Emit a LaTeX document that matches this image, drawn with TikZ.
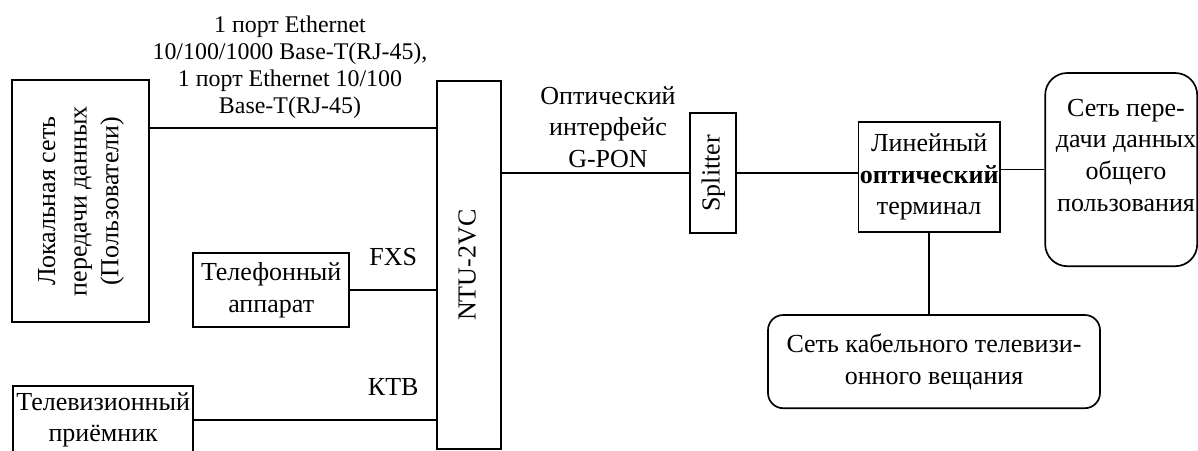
\documentclass[tikz,border=0pt]{standalone}
\usepackage{fontspec}
\setmainfont{Liberation Serif}
\usepackage{graphicx}
\usepackage{tikz}
\usetikzlibrary{positioning}

\newcommand{\diafont}{\fontsize{18.5}{22.5}\selectfont}
\newcommand{\portfont}{\fontsize{17}{19.2}\selectfont}
\newcommand{\vtext}[1]{\rotatebox{90}{\begin{tabular}{@{}c@{}}#1\end{tabular}}}

\begin{document}
\begin{tikzpicture}[
    every node/.style = {align=center},
    box/.style   = {rectangle, draw, line width=1.2pt, inner sep=1pt,
                    text centered, font=\diafont},
    rbox/.style  = {box, rounded corners=0.5cm},
    lbl/.style   = {font=\diafont},
    wire/.style  = {line width=1.2pt},
]
\useasboundingbox (0,0) rectangle (29.95,-11.25);

% --- Абонентская сторона ---
\node[box, minimum width=3.43cm, minimum height=6.05cm]
    (lan) at (2.01,-5.03)
    {\vtext{Локальная сеть\\передачи данных\\(Пользователи)}};
\node[box, minimum width=1.6cm, minimum height=9.2cm]
    (ntu) at (11.73,-6.63)
    {\vtext{NTU-2VC}};
\node[box, minimum width=3.9cm, minimum height=1.85cm]
    (phone) at (6.78,-7.25)
    {Телефонный\\аппарат};
\node[box, minimum width=4.5cm, minimum height=1.7cm]
    (tv) at (2.58,-10.5)
    {Телевизионный\\приёмник};

% --- Оптическая часть ---
\node[box, minimum width=1.15cm, minimum height=3.0cm]
    (splitter) at (17.83,-4.33)
    {\vtext{Splitter}};
\node[box, minimum width=3.5cm, minimum height=2.75cm]
    (olt) at (23.23,-4.43)
    {Линейный\\\textbf{оптический}\\терминал};
\node[rbox, minimum width=3.8cm, minimum height=4.83cm, rounded corners=0.55cm]
    (pdn) at (28.03,-4.24) {};
\node[lbl] (pdntext) at (28.15,-3.88)
    {Сеть пере-\\дачи данных\\общего\\пользования};
\node[rbox, minimum width=8.3cm, minimum height=2.33cm, rounded corners=0.38cm]
    (catv) at (23.35,-9.04)
    {Сеть кабельного телевизи-\\онного вещания};

% --- Подписи интерфейсов ---
\node[font=\portfont] (ethlabel) at (7.25,-1.68)
    {1 порт Ethernet\\10/100/1000 Base-T(RJ-45),\\1 порт Ethernet 10/100\\Base-T(RJ-45)};
\node[lbl] (fxs) at (9.83,-6.43) {FXS};
\node[lbl] (ktv) at (9.83,-9.68) {КТВ};
\node[lbl] (gpon) at (15.2,-3.18) {Оптический\\интерфейс\\G-PON};

% --- Линии связи ---
\coordinate (ethy) at (0,-3.2);
\draw[wire] (lan.east |- ethy) -- (ntu.west |- ethy);
\draw[wire] (phone.east) -- (ntu.west |- phone.east);
\draw[wire] (tv.east) -- (ntu.west |- tv.east);
\draw[wire] (ntu.east |- splitter.west) -- (splitter.west);
\draw[wire] (splitter.east) -- (olt.west |- splitter.east);
\draw[wire] (olt.east |- pdn.west) -- (pdn.west);
\draw[wire] (olt.south) -- (catv.north -| olt.south);

\end{tikzpicture}
\end{document}
